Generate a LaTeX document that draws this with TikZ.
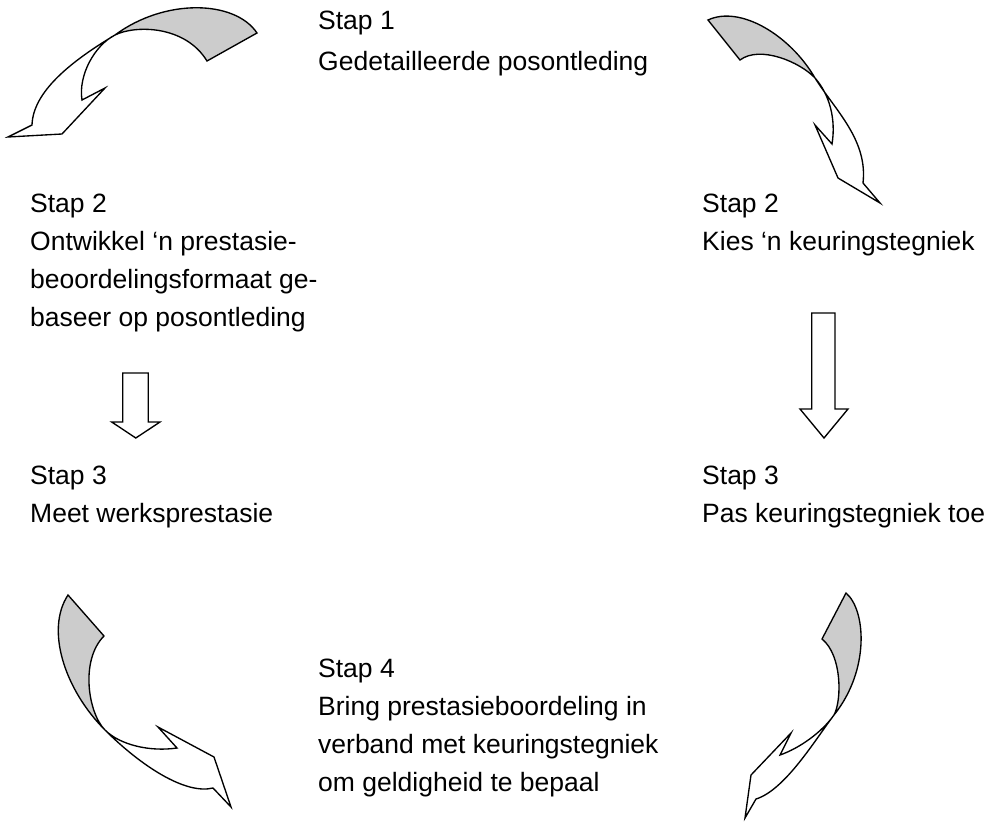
\documentclass[tikz,border=0pt]{standalone}
\usepackage{fontspec}
\setmainfont{Liberation Sans}
\definecolor{ribbon}{gray}{0.8}

\begin{document}
\begin{tikzpicture}[x=1pt,y=-1pt]
\tikzstyle{stap}=[anchor=base west, inner sep=0pt, font=\fontsize{26.5}{38}\selectfont]
\tikzstyle{blockarrow}=[draw=black, line width=1.35pt, line join=miter]
\useasboundingbox (0,0) rectangle (988,822);
% texts
\node [stap] (s1a) at (318,29) {Stap 1};
\node [stap] (s1b) at (318,70) {Gedetailleerde posontleding};
\node [stap] (l2a) at (30,212) {Stap 2};
\node [stap] (l2b) at (30,250) {Ontwikkel ‘n prestasie-};
\node [stap] (l2c) at (30,288) {beoordelingsformaat ge-};
\node [stap] (l2d) at (30,326) {baseer op posontleding};
\node [stap] (r2a) at (702,212) {Stap 2};
\node [stap] (r2b) at (702,250) {Kies ‘n keuringstegniek};
\node [stap] (l3a) at (30,484) {Stap 3};
\node [stap] (l3b) at (30,522) {Meet werksprestasie};
\node [stap] (r3a) at (702,484) {Stap 3};
\node [stap] (r3b) at (702,522) {Pas keuringstegniek toe};
\node [stap] (s4a) at (318,677) {Stap 4};
\node [stap] (s4b) at (318,715) {Bring prestasieboordeling in};
\node [stap] (s4c) at (318,753) {verband met keuringstegniek};
\node [stap] (s4d) at (318,791) {om geldigheid te bepaal};
% top left
\fill [ribbon] (115,35) .. controls (135,25) and (185,25) .. (207,61) -- (257,33) .. controls (235,0) and (165,-2) .. (115,35) -- cycle;
\draw [blockarrow] (257,33) .. controls (235,0) and (165,-2) .. (115,35) .. controls (70,62) and (33,92) .. (32,125) -- (8,137) -- (62,134) -- (105,88) -- (82,100) .. controls (78,75) and (95,45) .. (115,35) .. controls (135,25) and (185,25) .. (207,61) -- cycle;
% top right
\fill [ribbon] (815,78) .. controls (800,62) and (760,45) .. (740,60) -- (708,20) .. controls (740,5) and (790,35) .. (815,78) -- cycle;
\draw [blockarrow] (708,20) .. controls (740,5) and (790,35) .. (815,78) .. controls (835,110) and (868,140) .. (863,183) -- (880,203) -- (838,178) -- (815,125) -- (832,144) .. controls (836,120) and (830,95) .. (815,78) .. controls (800,62) and (760,45) .. (740,60) -- cycle;
% bottom left
\fill [ribbon] (105,730) .. controls (88,713) and (80,660) .. (104,636) -- (68,595) .. controls (45,630) and (65,690) .. (105,730) -- cycle;
\draw [blockarrow] (68,595) .. controls (45,630) and (65,690) .. (105,730) .. controls (140,765) and (185,795) .. (213,788) -- (231,807) -- (214,757) -- (158,727) -- (177,748) .. controls (150,752) and (120,745) .. (105,730) .. controls (88,713) and (80,660) .. (104,636) -- cycle;
% bottom right
\fill [ribbon] (834,715) .. controls (842,700) and (842,655) .. (822,639) -- (846,593) .. controls (866,610) and (870,670) .. (834,715) -- cycle;
\draw [blockarrow] (846,593) .. controls (866,610) and (870,670) .. (834,715) .. controls (815,740) and (785,790) .. (756,799) -- (745,818) -- (751,775) -- (791,733) -- (780,755) .. controls (800,748) and (822,732) .. (834,715) .. controls (842,700) and (842,655) .. (822,639) -- cycle;
% down arrows
\draw [blockarrow] (122.7,373) -- (148.3,373) -- (148.3,422) -- (160,422) -- (135.8,438) -- (111.7,422) -- (122.7,422) -- cycle;
\draw [blockarrow] (811.7,313) -- (835,313) -- (835,409) -- (848,409) -- (824,438) -- (800,409) -- (811.7,409) -- cycle;
\end{tikzpicture}
\end{document}
